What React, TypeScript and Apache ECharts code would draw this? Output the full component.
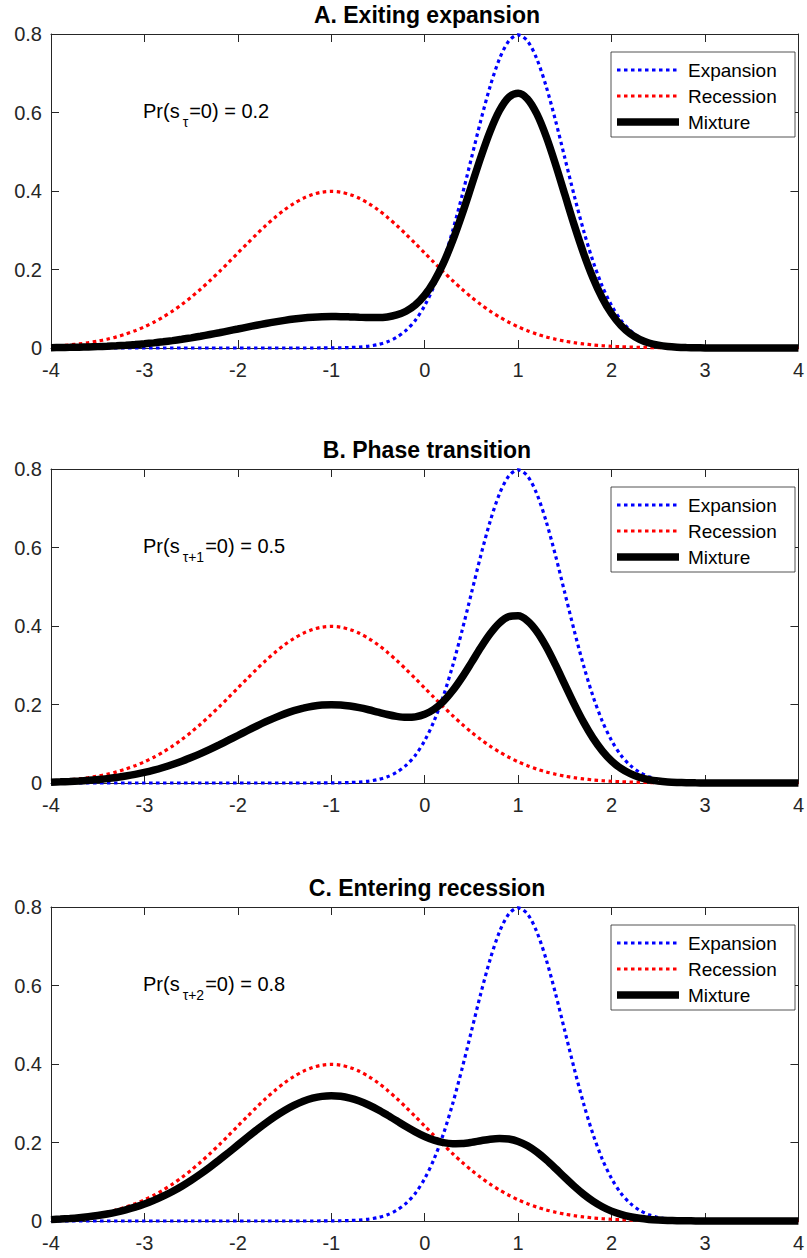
import React, { useEffect, useRef } from "react";
import * as echarts from "echarts";

// x grid (density evaluation points)
const xGrid = [
  -4.0, -3.9, -3.8, -3.7, -3.6, -3.5, -3.4, -3.3, -3.2, -3.1,
  -3.0, -2.9, -2.8, -2.7, -2.6, -2.5, -2.4, -2.3, -2.2, -2.1,
  -2.0, -1.9, -1.8, -1.7, -1.6, -1.5, -1.4, -1.3, -1.2, -1.1,
  -1.0, -0.9, -0.8, -0.7, -0.6, -0.5, -0.4, -0.3, -0.2, -0.1,
  0.0, 0.1, 0.2, 0.3, 0.4, 0.5, 0.6, 0.7, 0.8, 0.9,
  1.0, 1.1, 1.2, 1.3, 1.4, 1.5, 1.6, 1.7, 1.8, 1.9,
  2.0, 2.1, 2.2, 2.3, 2.4, 2.5, 2.6, 2.7, 2.8, 2.9,
  3.0, 3.1, 3.2, 3.3, 3.4, 3.5, 3.6, 3.7, 3.8, 3.9, 4.0,
];

const expansion = [
  0, 0, 0, 0, 0, 0, 0, 0, 0, 0,
  0, 0, 0, 0, 0, 0, 0, 0, 0, 0,
  0, 0, 0, 0, 0, 0, 0, 0, 0, 0.0001,
  0.0003, 0.0006, 0.0012, 0.0025, 0.0048, 0.0089, 0.0158, 0.0272, 0.0448, 0.0709,
  0.108, 0.1579, 0.2218, 0.2995, 0.3884, 0.4839, 0.5794, 0.6664, 0.7365, 0.7821,
  0.7979, 0.7821, 0.7365, 0.6664, 0.5794, 0.4839, 0.3884, 0.2995, 0.2218, 0.1579,
  0.108, 0.0709, 0.0448, 0.0272, 0.0158, 0.0089, 0.0048, 0.0025, 0.0012, 0.0006,
  0.0003, 0.0001, 0, 0, 0, 0, 0, 0, 0, 0, 0,
];

const recession = [
  0.0044, 0.006, 0.0079, 0.0104, 0.0136, 0.0175, 0.0224, 0.0283, 0.0355, 0.044,
  0.054, 0.0656, 0.079, 0.094, 0.1109, 0.1295, 0.1497, 0.1714, 0.1942, 0.2179,
  0.242, 0.2661, 0.2897, 0.3123, 0.3332, 0.3521, 0.3683, 0.3814, 0.391, 0.397,
  0.3989, 0.397, 0.391, 0.3814, 0.3683, 0.3521, 0.3332, 0.3123, 0.2897, 0.2661,
  0.242, 0.2179, 0.1942, 0.1714, 0.1497, 0.1295, 0.1109, 0.094, 0.079, 0.0656,
  0.054, 0.044, 0.0355, 0.0283, 0.0224, 0.0175, 0.0136, 0.0104, 0.0079, 0.006,
  0.0044, 0.0033, 0.0024, 0.0017, 0.0012, 0.0009, 0.0006, 0.0004, 0.0003, 0.0002,
  0.0001, 0.0001, 0, 0, 0, 0, 0, 0, 0, 0, 0,
];

const mixtureA = [
  0.0009, 0.0012, 0.0016, 0.0021, 0.0027, 0.0035, 0.0045, 0.0057, 0.0071, 0.0088,
  0.0108, 0.0131, 0.0158, 0.0188, 0.0222, 0.0259, 0.0299, 0.0343, 0.0388, 0.0436,
  0.0484, 0.0532, 0.0579, 0.0625, 0.0666, 0.0704, 0.0737, 0.0763, 0.0782, 0.0795,
  0.08, 0.0799, 0.0792, 0.0783, 0.0775, 0.0775, 0.0792, 0.0843, 0.0937, 0.1099,
  0.1348, 0.1699, 0.2162, 0.2739, 0.3406, 0.413, 0.4857, 0.5519, 0.605, 0.6388,
  0.6491, 0.6345, 0.5963, 0.5388, 0.468, 0.3906, 0.3134, 0.2417, 0.179, 0.1275,
  0.0873, 0.0574, 0.0363, 0.0221, 0.0128, 0.0073, 0.0039, 0.0021, 0.0011, 0.0005,
  0.0002, 0.0001, 0, 0, 0, 0, 0, 0, 0, 0, 0,
];

const mixtureB = [
  0.0022, 0.003, 0.004, 0.0052, 0.0068, 0.0088, 0.0112, 0.0142, 0.0178, 0.022,
  0.027, 0.0328, 0.0395, 0.047, 0.0555, 0.0648, 0.0749, 0.0857, 0.0971, 0.109,
  0.121, 0.1331, 0.1449, 0.1562, 0.1666, 0.1761, 0.1842, 0.1907, 0.1955, 0.1986,
  0.1996, 0.1988, 0.1961, 0.192, 0.1866, 0.1805, 0.1745, 0.1698, 0.1673, 0.1685,
  0.175, 0.1879, 0.208, 0.2355, 0.2691, 0.3067, 0.3452, 0.3802, 0.4078, 0.4239,
  0.426, 0.4131, 0.386, 0.3474, 0.3009, 0.2507, 0.201, 0.155, 0.1149, 0.082,
  0.0562, 0.0371, 0.0236, 0.0145, 0.0085, 0.0049, 0.0027, 0.0015, 0.0008, 0.0004,
  0.0002, 0.0001, 0, 0, 0, 0, 0, 0, 0, 0, 0,
];

const mixtureC = [
  0.0035, 0.0048, 0.0063, 0.0083, 0.0109, 0.014, 0.0179, 0.0226, 0.0284, 0.0352,
  0.0432, 0.0525, 0.0632, 0.0752, 0.0887, 0.1036, 0.1198, 0.1371, 0.1554, 0.1743,
  0.1936, 0.2129, 0.2318, 0.2498, 0.2666, 0.2817, 0.2946, 0.3051, 0.3128, 0.3176,
  0.3192, 0.3177, 0.313, 0.3056, 0.2956, 0.2835, 0.2697, 0.2553, 0.2407, 0.2271,
  0.2152, 0.2059, 0.1997, 0.197, 0.1974, 0.2004, 0.2046, 0.2085, 0.2105, 0.2089,
  0.2028, 0.1916, 0.1757, 0.1559, 0.1338, 0.1108, 0.0886, 0.0682, 0.0507, 0.0364,
  0.0251, 0.0168, 0.0109, 0.0068, 0.0041, 0.0025, 0.0014, 0.0008, 0.0005, 0.0003,
  0.0001, 0.0001, 0, 0, 0, 0, 0, 0, 0, 0, 0,
];

const panelTitles = ["A. Exiting expansion", "B. Phase transition", "C. Entering recession"];
const panelSubscripts = ["τ", "τ+1", "τ+2"];
const panelProbs = ["0.2", "0.5", "0.8"];
const panelMixtures = [mixtureA, mixtureB, mixtureC];
const legendNames = ["Expansion", "Recession", "Mixture"];

const FONT = "'Liberation Sans', Arial, Helvetica, sans-serif";
const AXIS_COLOR = "#262626";
const PANEL_TOPS = [34, 469, 907];
const GRID_LEFT = 51;
const GRID_WIDTH = 752;
const GRID_HEIGHT = 314;

const zip = (ys: number[]) => xGrid.map((x, i) => [x, ys[i]]);

function buildOption() {
  const grid: any[] = [];
  const xAxis: any[] = [];
  const yAxis: any[] = [];
  const series: any[] = [];
  const graphic: any[] = [];

  const axisLine = { show: true, onZero: false, lineStyle: { color: AXIS_COLOR, width: 1 } };
  const axisTick = { show: true, inside: true, length: 8, lineStyle: { color: AXIS_COLOR, width: 1 } };

  PANEL_TOPS.forEach((top, g) => {
    grid.push({ left: GRID_LEFT, top, width: GRID_WIDTH, height: GRID_HEIGHT, containLabel: false });
    xAxis.push({
      gridIndex: g, type: "value", min: -4, max: 4, interval: 1, position: "bottom",
      axisLine, axisTick, splitLine: { show: false },
      axisLabel: { fontSize: 20, color: AXIS_COLOR, margin: 12, fontFamily: FONT },
    });
    xAxis.push({
      gridIndex: g, type: "value", min: -4, max: 4, interval: 1, position: "top",
      axisLine, axisTick, splitLine: { show: false }, axisLabel: { show: false },
    });
    yAxis.push({
      gridIndex: g, type: "value", min: 0, max: 0.8, interval: 0.2, position: "left",
      axisLine, axisTick, splitLine: { show: false },
      axisLabel: { fontSize: 20, color: AXIS_COLOR, margin: 9, fontFamily: FONT },
    });
    yAxis.push({
      gridIndex: g, type: "value", min: 0, max: 0.8, interval: 0.2, position: "right",
      axisLine, axisTick, splitLine: { show: false }, axisLabel: { show: false },
    });

    const common = {
      type: "line", xAxisIndex: 2 * g, yAxisIndex: 2 * g, showSymbol: false, symbol: "none",
      smooth: 0.3, clip: false, silent: true,
    };
    series.push({ ...common, name: legendNames[0], data: zip(expansion), z: 2,
      lineStyle: { color: "#0000ff", width: 3.2, type: [3.5, 3.5] } });
    series.push({ ...common, name: legendNames[1], data: zip(recession), z: 2,
      lineStyle: { color: "#ff0000", width: 3.2, type: [3.5, 3.5] } });
    series.push({ ...common, name: legendNames[2], data: zip(panelMixtures[g]), z: 3,
      lineStyle: { color: "#000000", width: 7.5 } });

    // title
    graphic.push({
      type: "text", x: GRID_LEFT + GRID_WIDTH / 2, y: top - 19, z: 100,
      style: { text: panelTitles[g], fontSize: 23, fontWeight: "bold", fontFamily: FONT,
        fill: "#000", align: "center", verticalAlign: "middle" },
    });
    // annotation
    graphic.push({
      type: "text", x: 143, y: top + 77, z: 100,
      style: {
        text: `Pr(s{sub|${panelSubscripts[g]}}=0) = ${panelProbs[g]}`,
        fontSize: 20, fontFamily: FONT, fill: "#000", verticalAlign: "middle",
        rich: { sub: { fontSize: 14, fontFamily: FONT, fill: "#000", padding: [22, 1, 0, 3] } },
      },
    });
    // legend box
    const lx = 611, ly = top + 18;
    graphic.push({
      type: "rect", z: 100, shape: { x: lx, y: ly, width: 184, height: 85 },
      style: { fill: "#ffffff", stroke: AXIS_COLOR, lineWidth: 0.8 },
    });
    const itemYs = [36, 62, 88];
    const itemStyles = [
      { stroke: "#0000ff", lineWidth: 3.2, lineDash: [3.5, 3.5] },
      { stroke: "#ff0000", lineWidth: 3.2, lineDash: [3.5, 3.5] },
      { stroke: "#000000", lineWidth: 7.5 },
    ];
    itemYs.forEach((dy, k) => {
      graphic.push({
        type: "line", z: 101, shape: { x1: 617, y1: top + dy, x2: 679, y2: top + dy },
        style: itemStyles[k],
      });
      graphic.push({
        type: "text", z: 101, x: 688, y: top + dy,
        style: { text: legendNames[k], fontSize: 19, fontFamily: FONT, fill: "#000", verticalAlign: "middle" },
      });
    });
  });

  return { animation: false, backgroundColor: "#ffffff", grid, xAxis, yAxis, series, graphic };
}

export default function App() {
  const ref = useRef<HTMLDivElement>(null);
  useEffect(() => {
    if (!ref.current) return;
    const chart = echarts.init(ref.current, undefined, { renderer: "svg" });
    chart.setOption(buildOption() as any);
    return () => chart.dispose();
  }, []);
  return (
    <div
      ref={ref}
      style={{ position: "fixed", left: 0, top: 0, width: 807, height: 1258, background: "#fff" }}
    />
  );
}
